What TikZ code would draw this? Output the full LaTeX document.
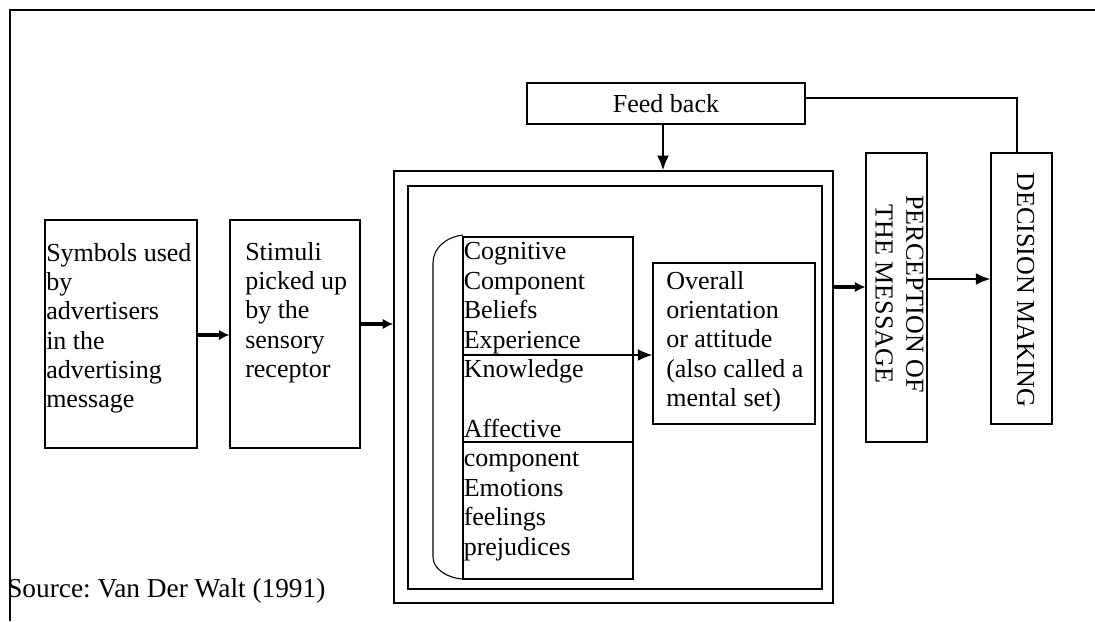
\documentclass[tikz,border=0pt]{standalone}
\usepackage{fontspec}
\setmainfont{Liberation Serif}
\usetikzlibrary{arrows.meta}
\begin{document}
\frenchspacing
\begin{tikzpicture}[x=0.75pt,y=-0.75pt,
  box/.style={draw, line width=0.8pt, inner sep=0pt},
  bigbox/.style={draw, line width=1.1pt, inner sep=0pt},
  txt/.style={anchor=north west, inner sep=0pt, align=left, font=\fontsize{19.5}{22}\selectfont},
  vtxt/.style={inner sep=0pt, align=center, rotate=-90, font=\fontsize{19.5}{23}\selectfont},
  thickarr/.style={line width=2.6pt, -{Latex[length=8pt,width=8pt]}},
  arr/.style={line width=1.6pt, -{Latex[length=11pt,width=9pt]}},
]
\useasboundingbox (0,0) rectangle (1095,621);
% frame
\coordinate (fTL) at (10,10);
\coordinate (fTR) at (1095,10);
\coordinate (fBL) at (10,621);
\draw[line width=1pt] (fTR) -- (fTL) -- (fBL);

% boxes
\node[box, minimum width=114pt, minimum height=171pt] (b1) at (121,334) {};
\node[box, minimum width=97.5pt, minimum height=171pt] (b2) at (295,334) {};
\node[bigbox, minimum width=329.25pt, minimum height=324pt] (outer) at (613.5,387) {};
\node[box, minimum width=310.5pt, minimum height=302.25pt] (inner) at (615,387.5) {};
\node[box, minimum width=127.5pt, minimum height=256.5pt] (cog) at (548,408) {};
\node[box, minimum width=121.5pt, minimum height=120.75pt] (ovr) at (734,343.5) {};
\node[box, minimum width=208.5pt, minimum height=30.75pt, font=\fontsize{19.5}{22}\selectfont] (fb) at (666,103.5) {Feed back};
\node[box, minimum width=45.75pt, minimum height=216.75pt] (perc) at (896.5,297.5) {};
\node[box, minimum width=45.75pt, minimum height=203.25pt] (dec) at (1021.5,288.5) {};

% divider in cognitive box
\coordinate (dvL) at (463,442);
\coordinate (dvR) at (633,442);
\draw[line width=1.2pt] (dvL) -- (dvR);

% bracket
\draw[line width=0.8pt] (463,235) .. controls (446,237) and (433,248) .. (433,263) -- (433,557) .. controls (433,569) and (447,578) .. (463,579);

% texts
\node[txt] (t1) at (46,243) {Symbols used\\by\\advertisers\\in the\\advertising\\message};
\node[txt] (t2) at (245,242) {Stimuli\\picked up\\by the\\sensory\\receptor};
\node[txt, font=\fontsize{19.5}{22.2}\selectfont] (t3) at (463.5,242) {Cognitive\\Component\\Beliefs\\Experience\\Knowledge\\[22.2pt]Affective\\component\\Emotions\\feelings\\prejudices};
\node[txt] (t4) at (666,271) {Overall\\orientation\\or attitude\\(also called a\\mental set)};
\node[vtxt] (t5) at (899.5,294) {PERCEPTION OF\\THE MESSAGE};
\node[vtxt] (t6) at (1025.5,290) {DECISION MAKING};
\node[anchor=base west, inner sep=0pt, font=\fontsize{20.5}{24}\selectfont] (src) at (7,597) {Source: Van Der Walt (1991)};

% connectors
\draw[thickarr] ([yshift=-0.75pt]b1.east) -- ([yshift=-0.75pt]b2.west);
\draw[thickarr] ([yshift=7.5pt]b2.east) -- ([yshift=47.25pt]outer.west);
\draw[thickarr] ([yshift=75pt]outer.east) -- ([yshift=7.875pt]perc.west);
\draw[arr] ([yshift=13.875pt]perc.east) -- ([yshift=7.125pt]dec.west);
\draw[arr] ([yshift=39.75pt]cog.west) -- ([yshift=-8.625pt]ovr.west);
\draw[arr] ([xshift=-2.25pt]fb.south) -- ([xshift=37.125pt]outer.north);
\draw[line width=1.5pt] ([yshift=4.125pt]fb.east) -| ([xshift=-3.375pt]dec.north);
\end{tikzpicture}
\end{document}
